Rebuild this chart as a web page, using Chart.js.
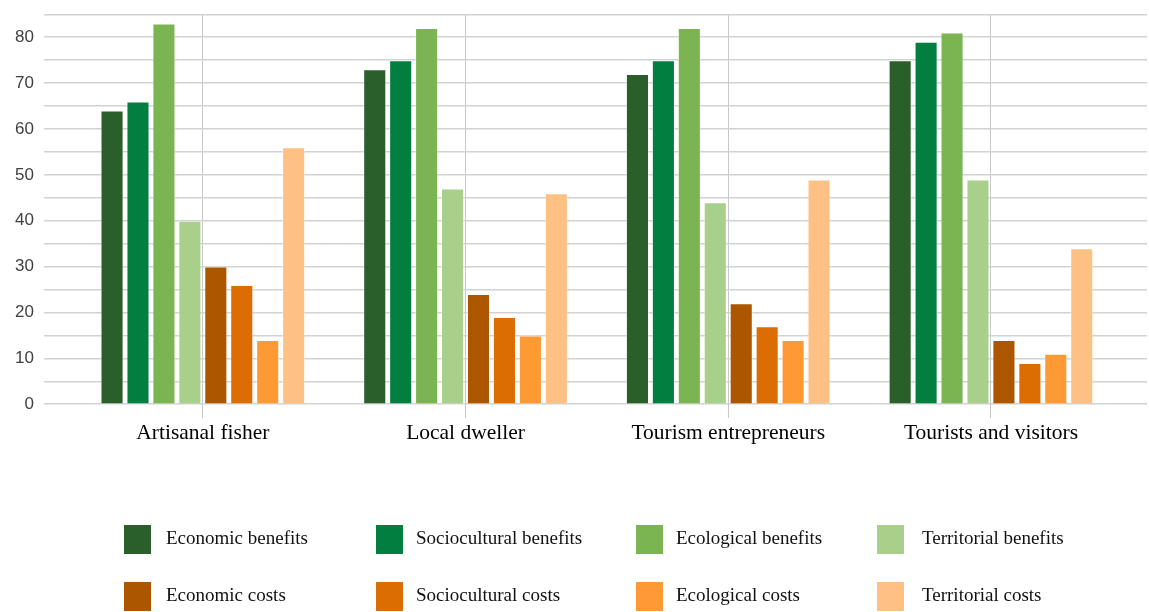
<!DOCTYPE html>
<html>
<head>
<meta charset="utf-8">
<script src="https://cdn.jsdelivr.net/npm/chart.js@4/dist/chart.umd.min.js"></script>
<style>
    html, body { margin: 0; padding: 0; background: #fff; }
    #wrap { position: relative; width: 1149px; height: 612px; }
    #legend { position: absolute; left: 0; top: 0; width: 1149px; height: 612px; pointer-events: none; }
    .item { position: absolute; font-family: "Liberation Serif", "Times New Roman", serif; font-size: 19px; color: #111; }
    .box { position: absolute; width: 27px; height: 29px; }
    .lbl { position: absolute; white-space: nowrap; }
</style>
</head>
<body>
<div id="wrap">
    <canvas id="stakeholderChart"></canvas>
    <div id="legend"></div>
</div>
<script>
// Categories and series (percentages)
const categories = ['Artisanal fisher', 'Local dweller', 'Tourism entrepreneurs', 'Tourists and visitors'];
const seriesNames = [
    'Economic benefits', 'Sociocultural benefits', 'Ecological benefits', 'Territorial benefits',
    'Economic costs', 'Sociocultural costs', 'Ecological costs', 'Territorial costs'
];
const economicBenefits      = [64, 73, 72, 75];
const socioculturalBenefits = [66, 75, 75, 79];
const ecologicalBenefits    = [83, 82, 82, 81];
const territorialBenefits   = [40, 47, 44, 49];
const economicCosts         = [30, 24, 22, 14];
const socioculturalCosts    = [26, 19, 17, 9];
const ecologicalCosts       = [14, 15, 14, 11];
const territorialCosts      = [56, 46, 49, 34];
const yTicks = [0, 10, 20, 30, 40, 50, 60, 70, 80];

const seriesValues = [
    economicBenefits, socioculturalBenefits, ecologicalBenefits, territorialBenefits,
    economicCosts, socioculturalCosts, ecologicalCosts, territorialCosts
];
const seriesColors = [
    '#2a5e2a', '#027e40', '#7bb551', '#a8d08a',
    '#ad5600', '#dc6d02', '#fe9a33', '#ffc083'
];

// Legend grid positions (columns x, rows y)
const legendCols = [124, 376, 636, 877];
const legendRows = [525, 582];

function buildDatasets() {
    return seriesValues.map((values, s) => ({
        label: seriesNames[s],
        data: values.map((v, i) => ({ x: i, y: v })),
        backgroundColor: seriesColors[s],
        borderColor: 'rgba(255,255,255,0.45)',
        borderWidth: 1,
        barPercentage: 0.89,
        categoryPercentage: 0.79
    }));
}

function buildLegend(chart) {
    const legend = document.getElementById('legend');
    legend.innerHTML = '';
    chart.data.datasets.forEach((ds, i) => {
        const col = i % 4;
        const row = Math.floor(i / 4);
        const item = document.createElement('div');
        item.className = 'item';
        item.style.left = legendCols[col] + 'px';
        item.style.top = legendRows[row] + 'px';

        const box = document.createElement('div');
        box.className = 'box';
        box.style.background = ds.backgroundColor;
        box.style.left = '0px';
        box.style.top = '0px';

        const lbl = document.createElement('div');
        lbl.className = 'lbl';
        lbl.textContent = ds.label;
        lbl.style.left = (col === 0 ? 42 : (col === 3 ? 45 : 40)) + 'px';
        lbl.style.top = '2px';

        item.appendChild(box);
        item.appendChild(lbl);
        legend.appendChild(item);
    });
}

const ctx = document.getElementById('stakeholderChart');
const chart = new Chart(ctx, {
    type: 'bar',
    data: { datasets: buildDatasets() },
    options: {
        responsive: true,
        maintainAspectRatio: false,
        animation: false,
        layout: {
            padding: { left: 5, right: 2, top: 0, bottom: 164 }
        },
        plugins: {
            legend: { display: false },
            tooltip: { enabled: false }
        },
        scales: {
            x: {
                type: 'linear',
                offset: false,
                min: -0.605,
                max: 3.594,
                afterBuildTicks: function(scale) {
                    scale.ticks = categories.map((c, i) => ({ value: i }));
                },
                border: { display: false },
                grid: {
                    offset: false,
                    color: '#c8c8c8',
                    lineWidth: 1,
                    drawTicks: true,
                    tickLength: 14
                },
                ticks: {
                    padding: 2,
                    color: '#000',
                    font: { family: '"Liberation Serif", "Times New Roman", serif', size: 21.5 },
                    callback: function(value) {
                        return categories[value] !== undefined ? categories[value] : '';
                    }
                }
            },
            y: {
                min: 0,
                max: 85,
                border: { display: false },
                grid: {
                    color: '#d2d2d2',
                    lineWidth: 1.5,
                    drawTicks: false
                },
                ticks: {
                    stepSize: 5,
                    padding: 10,
                    color: '#404040',
                    font: { family: '"Liberation Sans", Arial, sans-serif', size: 17, lineHeight: 0.5 },
                    callback: function(value) {
                        return yTicks.includes(value) ? value : '';
                    }
                }
            }
        }
    }
});

buildLegend(chart);
</script>
</body>
</html>
